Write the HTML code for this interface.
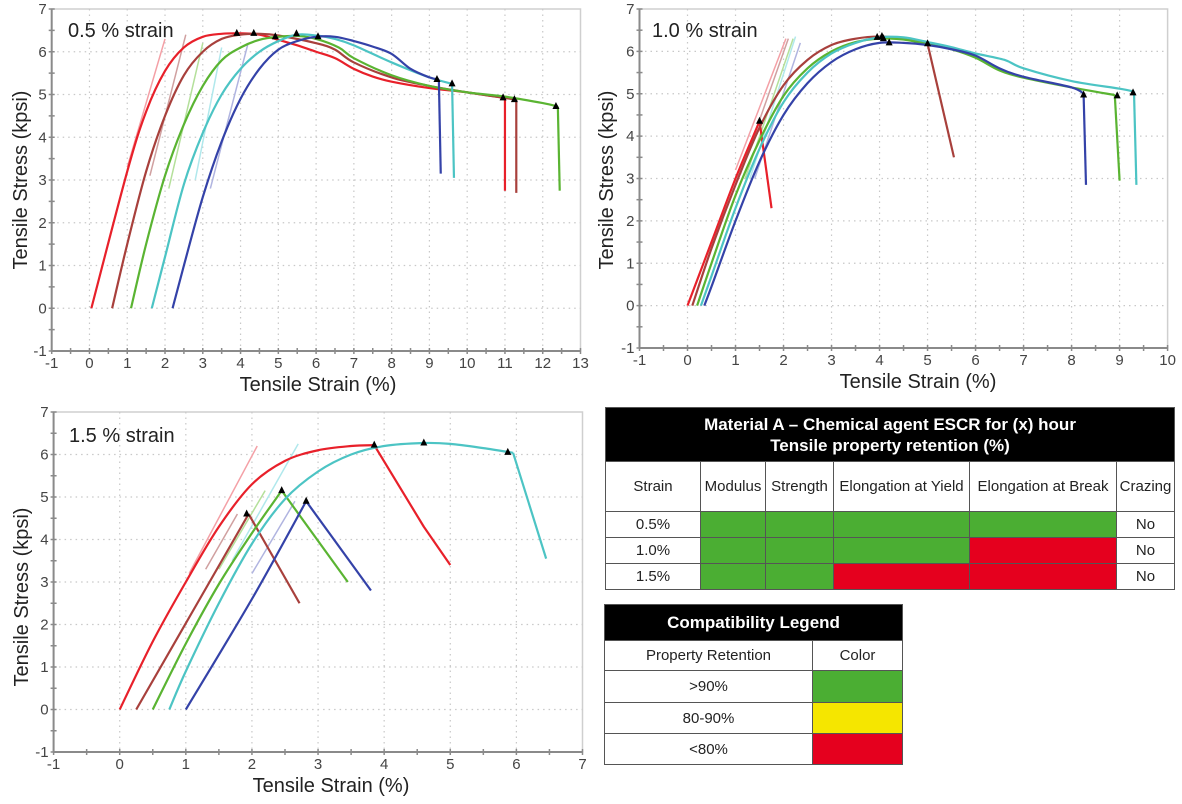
<!DOCTYPE html>
<html><head><meta charset="utf-8">
<style>
html,body{margin:0;padding:0;background:#fff;}
body{width:1182px;height:804px;position:relative;overflow:hidden;font-family:"Liberation Sans",sans-serif;}
svg{position:absolute;left:0;top:0;}
.tbl{position:absolute;border-collapse:collapse;font-family:"Liberation Sans",sans-serif;}
.tbl td{border:1.5px solid #555;padding:0;text-align:center;color:#222;}
.hd{background:#000;color:#fff!important;font-weight:bold;}
.g{background:#4bae33;} .r{background:#e5001e;} .y{background:#f5e600;}
</style></head><body>
<svg id="chart" width="1182" height="804"></svg>

<table class="tbl" style="left:605px;top:407px;width:570px;">
<tr style="height:54px"><td colspan="6" class="hd" style="font-size:17px;line-height:21px">Material A – Chemical agent ESCR for (x) hour<br>Tensile property retention (%)</td></tr>
<tr style="height:50px;font-size:15px"><td style="width:94px">Strain</td><td style="width:64px">Modulus</td><td style="width:67px">Strength</td><td style="width:135px">Elongation at Yield</td><td style="width:146px">Elongation at Break</td><td>Crazing</td></tr>
<tr style="height:26px;font-size:15px"><td>0.5%</td><td class="g"></td><td class="g"></td><td class="g"></td><td class="g"></td><td>No</td></tr>
<tr style="height:26px;font-size:15px"><td>1.0%</td><td class="g"></td><td class="g"></td><td class="g"></td><td class="r"></td><td>No</td></tr>
<tr style="height:26px;font-size:15px"><td>1.5%</td><td class="g"></td><td class="g"></td><td class="r"></td><td class="r"></td><td>No</td></tr>
</table>

<table class="tbl" style="left:604px;top:604px;width:299px;">
<tr style="height:36px"><td colspan="2" class="hd" style="font-size:17px">Compatibility Legend</td></tr>
<tr style="height:30px;font-size:15px"><td style="width:207px">Property Retention</td><td>Color</td></tr>
<tr style="height:32px;font-size:15px"><td>&gt;90%</td><td class="g"></td></tr>
<tr style="height:31px;font-size:15px"><td>80-90%</td><td class="y"></td></tr>
<tr style="height:31px;font-size:15px"><td>&lt;80%</td><td class="r"></td></tr>
</table>

<script>
// ---- Chart 1: 0.5 % strain ----
const c1Red=[[0.05,0],[1,3.2],[1.5,4.6],[2,5.55],[2.5,6.1],[3,6.35],[3.5,6.42],[4,6.43],[4.5,6.4],[5,6.28],[5.5,6.15],[6,6.0],[6.5,5.85],[7,5.6],[7.5,5.42],[8,5.3],[9,5.15],[10,5.05],[11,4.92]];
const c1RedTail=[[11,4.92],[11,2.75]];
const c1Brown=[[0.6,0],[1,1.5],[1.5,3.2],[2,4.5],[2.5,5.45],[3,6.0],[3.5,6.3],[4,6.4],[4.5,6.42],[5,6.38],[6,6.2],[6.5,6.05],[7,5.75],[8,5.4],[9,5.2],[10,5.05],[11.3,4.88]];
const c1BrownTail=[[11.3,4.88],[11.3,2.7]];
const c1Green=[[1.1,0],[1.5,1.5],[2,3.1],[2.5,4.3],[3,5.2],[3.5,5.8],[4,6.1],[4.5,6.28],[5,6.35],[5.5,6.37],[6,6.3],[6.6,6.1],[7,5.85],[8,5.45],[9,5.2],[10,5.05],[11,4.95],[12,4.8],[12.4,4.72]];
const c1GreenTail=[[12.4,4.72],[12.45,2.75]];
const c1Cyan=[[1.65,0],[2,1.2],[2.5,2.9],[3,4.1],[3.5,5.0],[4,5.6],[4.5,6.0],[5,6.25],[5.5,6.4],[6,6.38],[6.5,6.3],[7,6.15],[8,5.75],[9,5.4],[9.6,5.25]];
const c1CyanTail=[[9.6,5.25],[9.65,3.05]];
const c1Blue=[[2.2,0],[2.5,1.0],[3,2.6],[3.5,3.9],[4,4.9],[4.5,5.6],[5,6.05],[5.5,6.25],[6,6.35],[6.5,6.35],[7,6.25],[7.5,6.12],[8,5.95],[8.5,5.6],[9,5.4],[9.25,5.35]];
const c1BlueTail=[[9.25,5.35],[9.3,3.15]];
const c1Modulus=[[[1,3.3],[2,6.3]],[[1.6,3.1],[2.55,6.4]],[[2.1,2.8],[3,6.2]],[[2.8,3.0],[3.5,6.1]],[[3.2,2.8],[4.2,6.2]]];
const c1Markers=[[3.9,6.43],[4.35,6.43],[4.92,6.35],[5.48,6.42],[6.05,6.35],[9.2,5.35],[9.6,5.25],[10.95,4.92],[11.25,4.88],[12.35,4.72]];
const c1XTicks=[-1,0,1,2,3,4,5,6,7,8,9,10,11,12,13];
const c1YTicks=[-1,0,1,2,3,4,5,6,7];

// ---- Chart 2: 1.0 % strain ----
const c2Red=[[0,0],[0.5,1.5],[1,3.0],[1.5,4.35]];
const c2RedTail=[[1.5,4.35],[1.75,2.3]];
const c2Brown=[[0.1,0],[0.5,1.35],[1,2.85],[1.5,4.2],[2,5.2],[2.5,5.8],[3,6.15],[3.5,6.3],[4,6.35],[4.5,6.3],[5,6.18]];
const c2BrownTail=[[5,6.18],[5.55,3.5]];
const c2Green=[[0.2,0],[0.5,1.0],[1,2.6],[1.5,3.9],[2,4.95],[2.5,5.6],[3,6.0],[3.5,6.22],[4,6.3],[4.5,6.28],[5,6.17],[5.5,6.05],[6,5.85],[6.5,5.55],[7,5.38],[8,5.15],[8.9,4.97]];
const c2GreenTail=[[8.9,4.97],[9,2.95]];
const c2Cyan=[[0.28,0],[0.5,0.7],[1,2.3],[1.5,3.7],[2,4.8],[2.5,5.5],[3,5.95],[3.5,6.2],[4,6.33],[4.5,6.33],[5,6.22],[5.5,6.1],[6,5.95],[6.6,5.8],[7,5.6],[8,5.3],[9,5.12],[9.3,5.05]];
const c2CyanTail=[[9.3,5.05],[9.35,2.85]];
const c2Blue=[[0.35,0],[0.5,0.45],[1,2.0],[1.5,3.4],[2,4.5],[2.5,5.25],[3,5.75],[3.5,6.05],[4,6.2],[4.5,6.2],[5,6.15],[5.5,6.05],[6,5.9],[6.5,5.6],[7,5.4],[8,5.15],[8.25,5.0]];
const c2BlueTail=[[8.25,5.0],[8.3,2.85]];
const c2Modulus=[[[1,3.2],[2.05,6.3]],[[1.1,3.1],[2.1,6.3]],[[1.2,3.0],[2.2,6.3]],[[1.3,3.0],[2.25,6.35]],[[1.4,3.0],[2.35,6.2]]];
const c2Markers=[[1.5,4.35],[3.95,6.33],[4.05,6.35],[4.08,6.3],[4.2,6.2],[5.0,6.18],[8.25,4.97],[8.95,4.95],[9.28,5.02]];
const c2XTicks=[-1,0,1,2,3,4,5,6,7,8,9,10];
const c2YTicks=[-1,0,1,2,3,4,5,6,7];

// ---- Chart 3: 1.5 % strain ----
const c3Red=[[0,0],[0.5,1.6],[1,3.0],[1.5,4.3],[2,5.3],[2.5,5.85],[3,6.1],[3.5,6.2],[3.85,6.22]];
const c3RedTail=[[3.85,6.22],[4.6,4.3],[5,3.4]];
const c3Brown=[[0.25,0],[1.95,4.6]];
const c3BrownTail=[[1.95,4.6],[2.72,2.5]];
const c3Green=[[0.5,0],[1,1.55],[1.5,2.95],[2,4.15],[2.45,5.15]];
const c3GreenTail=[[2.45,5.15],[3.45,3.0]];
const c3Cyan=[[0.75,0],[1,0.9],[1.5,2.5],[2,3.9],[2.5,4.95],[3,5.6],[3.5,6.0],[4,6.2],[4.6,6.27],[5,6.25],[5.5,6.15],[5.95,6.04]];
const c3CyanTail=[[5.95,6.04],[6.45,3.55]];
const c3Blue=[[1,0],[2,2.6],[2.82,4.9]];
const c3BlueTail=[[2.82,4.9],[3.8,2.8]];
const c3Modulus=[[[1.05,3.2],[2.08,6.2]],[[1.3,3.3],[1.78,4.6]],[[1.5,3.3],[2.2,5.15]],[[1.7,3.5],[2.7,6.25]],[[2,3.2],[2.65,4.9]]];
const c3Markers=[[3.85,6.22],[4.6,6.27],[5.87,6.05],[1.92,4.6],[2.45,5.15],[2.82,4.9]];
const c3XTicks=[-1,0,1,2,3,4,5,6,7];
const c3YTicks=[-1,0,1,2,3,4,5,6,7];

const NS='http://www.w3.org/2000/svg';
const svg=document.getElementById('chart');
const COLORS={red:'#e8202a',brown:'#a8403c',green:'#5ab432',cyan:'#4cc4c4',blue:'#3442a8'};
const LIGHT={red:'#f4a0a6',brown:'#d0a0a0',green:'#b4e09a',cyan:'#b0e8ec',blue:'#b0b4e0'};

function mk(tag,attrs,parent){const e=document.createElementNS(NS,tag);for(const k in attrs)e.setAttribute(k,attrs[k]);(parent||svg).appendChild(e);return e;}

function smoothPath(pts,sx,sy){
  const P=pts.map(p=>[sx(p[0]),sy(p[1])]);
  let d='M'+P[0][0]+','+P[0][1];
  for(let i=0;i<P.length-1;i++){
    const p0=P[i-1]||P[i],p1=P[i],p2=P[i+1],p3=P[i+2]||P[i+1];
    const c1x=p1[0]+(p2[0]-p0[0])/6,c1y=p1[1]+(p2[1]-p0[1])/6;
    const c2x=p2[0]-(p3[0]-p1[0])/6,c2y=p2[1]-(p3[1]-p1[1])/6;
    d+=' C'+c1x+','+c1y+' '+c2x+','+c2y+' '+p2[0]+','+p2[1];
  }
  return d;
}

function drawChart(cfg){
  const g=mk('g',{});
  
  
  const {x0,x1,y0,y1,xmin,xmax,ymin,ymax}=cfg;
  const sx=v=>x0+(v-xmin)/(xmax-xmin)*(x1-x0);
  const sy=v=>y1-(v-ymin)/(ymax-ymin)*(y1-y0);
  mk('rect',{x:x0,y:y0,width:x1-x0,height:y1-y0,fill:'none',stroke:'#cfcfcf','stroke-width':1.5},g);
  cfg.xt.forEach(v=>{if(v>xmin&&v<xmax){const l=mk('line',{x1:sx(v),x2:sx(v),y1:y0,y2:y1,stroke:'#c8c8c8','stroke-width':1.2,'stroke-dasharray':'1.5 4'},g);}});
  cfg.yt.forEach(v=>{if(v>ymin&&v<ymax){const l=mk('line',{x1:x0,x2:x1,y1:sy(v),y2:sy(v),stroke:'#c8c8c8','stroke-width':1.2,'stroke-dasharray':'1.5 4'},g);}});
  mk('line',{x1:x0,x2:x1,y1:y1,y2:y1,stroke:'#8a8a8a','stroke-width':2},g);
  mk('line',{x1:x0,x2:x0,y1:y0,y2:y1,stroke:'#8a8a8a','stroke-width':2},g);
  cfg.xt.forEach((v,i)=>{
    mk('line',{x1:sx(v),x2:sx(v),y1:y1-3,y2:y1+3,stroke:'#8a8a8a','stroke-width':1.5},g);
    if(i<cfg.xt.length-1){const m=(v+cfg.xt[i+1])/2;mk('line',{x1:sx(m),x2:sx(m),y1:y1-3,y2:y1+3,stroke:'#8a8a8a','stroke-width':1.5},g);}
    const t=mk('text',{x:sx(v),y:y1+17,'text-anchor':'middle','font-size':15,fill:'#444'},g);t.textContent=v;
    
  });
  cfg.yt.forEach((v,i)=>{
    mk('line',{x1:x0-3,x2:x0+3,y1:sy(v),y2:sy(v),stroke:'#8a8a8a','stroke-width':1.5},g);
    if(i<cfg.yt.length-1){const m=(v+cfg.yt[i+1])/2;mk('line',{x1:x0-3,x2:x0+3,y1:sy(m),y2:sy(m),stroke:'#8a8a8a','stroke-width':1.5},g);}
    const t=mk('text',{x:x0-5,y:sy(v)+5,'text-anchor':'end','font-size':15,fill:'#444'},g);t.textContent=v;
    
  });
  const tt=mk('text',{x:cfg.tx,y:cfg.ty,'font-size':20,fill:'#222'},g);tt.textContent=cfg.title;
  
  const xt=mk('text',{x:cfg.xtx,y:y1+40,'text-anchor':'middle','font-size':20,fill:'#222'},g);xt.textContent='Tensile Strain (%)';
  
  const yt=mk('text',{x:0,y:0,'text-anchor':'middle','font-size':20,fill:'#222',transform:'translate('+cfg.ytx+','+cfg.yty+') rotate(-90)'},g);yt.textContent='Tensile Stress (kpsi)';
  
  cfg.modulus.forEach((seg,i)=>{
    const l=mk('line',{x1:sx(seg[0][0]),y1:sy(seg[0][1]),x2:sx(seg[1][0]),y2:sy(seg[1][1]),stroke:LIGHT[cfg.series[i].c],'stroke-width':1.5},g);
    
  });
  cfg.series.forEach(s=>{
    const p=mk('path',{d:smoothPath(s.curve,sx,sy),fill:'none',stroke:COLORS[s.c],'stroke-width':2.2,'stroke-linejoin':'round'},g);
    
    const pts=s.tail.map(q=>sx(q[0])+','+sy(q[1])).join(' ');
    const t=mk('polyline',{points:pts,fill:'none',stroke:COLORS[s.c],'stroke-width':2.2,'stroke-linejoin':'round'},g);
    
  });
  cfg.markers.forEach(m=>{
    const X=sx(m[0]),Y=sy(m[1]);
    const tr=mk('polygon',{points:(X-3.5)+','+(Y+2.5)+' '+(X+3.5)+','+(Y+2.5)+' '+X+','+(Y-4.5),fill:'#000'},g);
    
  });
}

drawChart({name:'chart-0-5-strain',x0:51.7,x1:580.5,y0:9,y1:351,xmin:-1,xmax:13,ymin:-1,ymax:7,xt:c1XTicks,yt:c1YTicks,
  title:'0.5 % strain',tx:68,ty:37,xtx:318,ytx:27,yty:180,modulus:c1Modulus,markers:c1Markers,
  series:[{c:'red',curve:c1Red,tail:c1RedTail},{c:'brown',curve:c1Brown,tail:c1BrownTail},{c:'green',curve:c1Green,tail:c1GreenTail},{c:'cyan',curve:c1Cyan,tail:c1CyanTail},{c:'blue',curve:c1Blue,tail:c1BlueTail}]});
drawChart({name:'chart-1-0-strain',x0:639.5,x1:1167.6,y0:9,y1:348,xmin:-1,xmax:10,ymin:-1,ymax:7,xt:c2XTicks,yt:c2YTicks,
  title:'1.0 % strain',tx:652,ty:37,xtx:918,ytx:613,yty:180,modulus:c2Modulus,markers:c2Markers,
  series:[{c:'red',curve:c2Red,tail:c2RedTail},{c:'brown',curve:c2Brown,tail:c2BrownTail},{c:'green',curve:c2Green,tail:c2GreenTail},{c:'cyan',curve:c2Cyan,tail:c2CyanTail},{c:'blue',curve:c2Blue,tail:c2BlueTail}]});
drawChart({name:'chart-1-5-strain',x0:53.6,x1:582.5,y0:412,y1:752,xmin:-1,xmax:7,ymin:-1,ymax:7,xt:c3XTicks,yt:c3YTicks,
  title:'1.5 % strain',tx:69,ty:442,xtx:331,ytx:28,yty:597,modulus:c3Modulus,markers:c3Markers,
  series:[{c:'red',curve:c3Red,tail:c3RedTail},{c:'brown',curve:c3Brown,tail:c3BrownTail},{c:'green',curve:c3Green,tail:c3GreenTail},{c:'cyan',curve:c3Cyan,tail:c3CyanTail},{c:'blue',curve:c3Blue,tail:c3BlueTail}]});
</script>
</body></html>
